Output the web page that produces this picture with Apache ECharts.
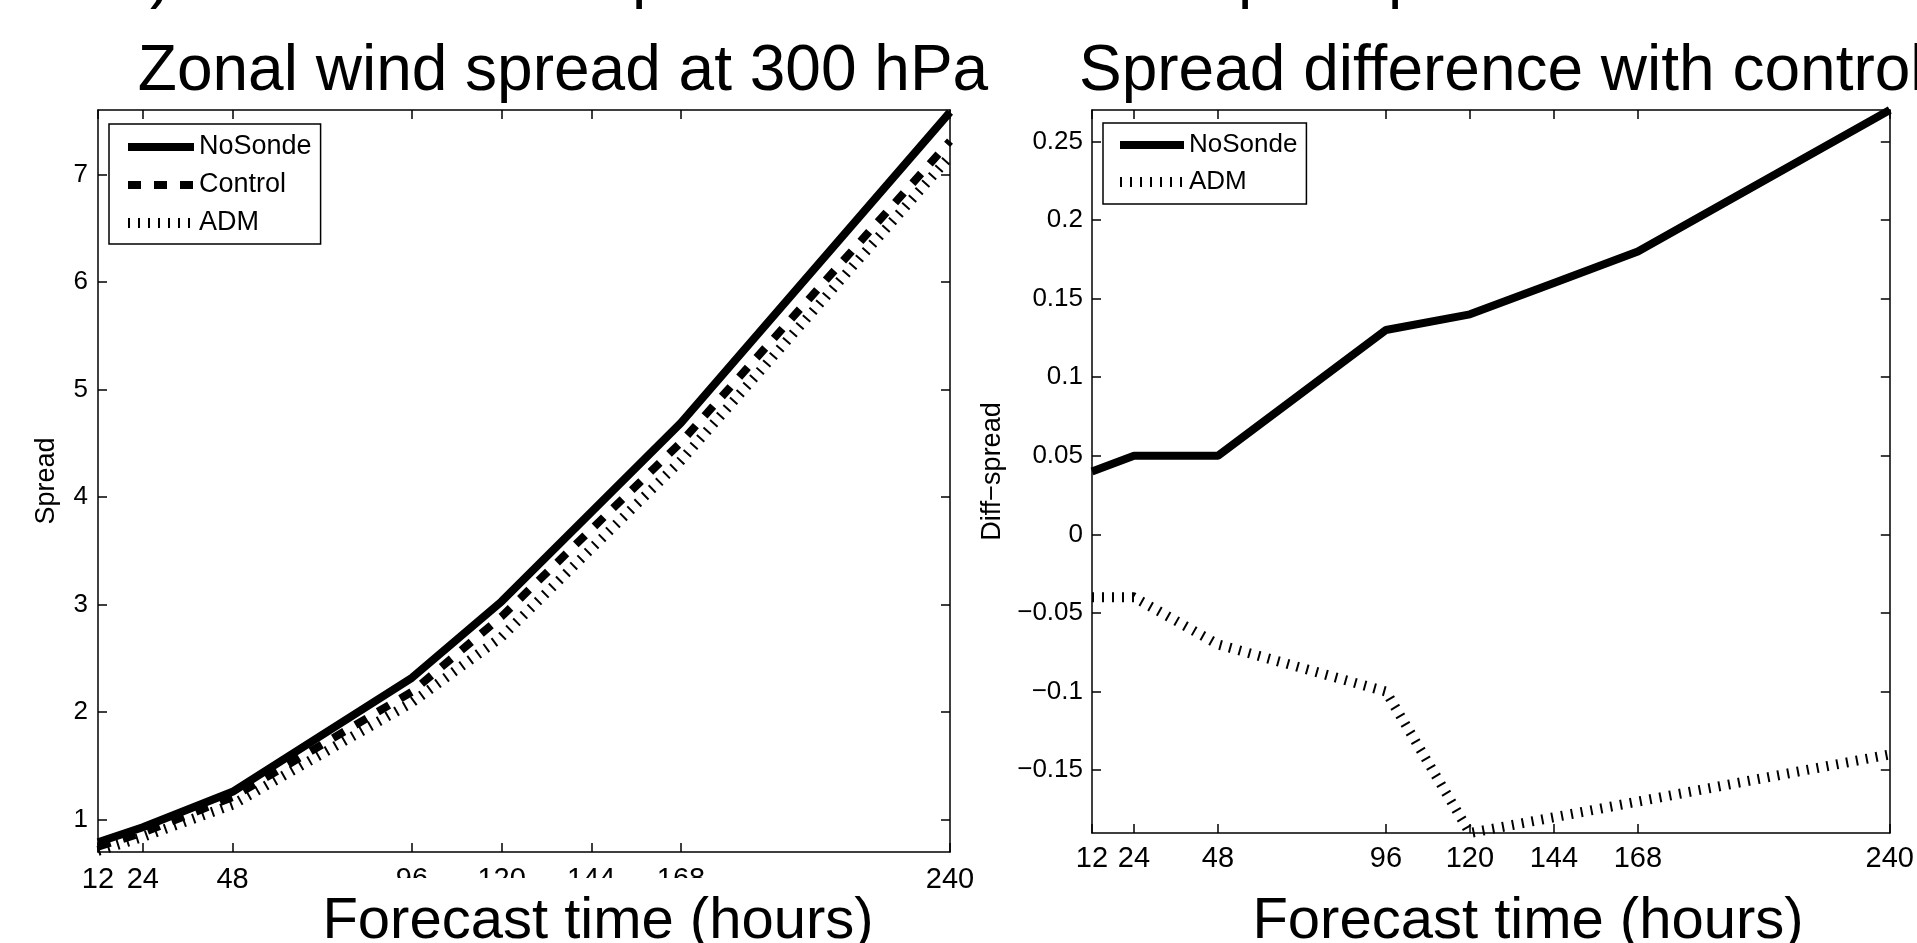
<!DOCTYPE html>
<html>
<head>
<meta charset="utf-8">
<script src="https://cdn.jsdelivr.net/npm/echarts@6/dist/echarts.min.js"></script>
<style>
  html, body { margin: 0; padding: 0; background: #fff; }
  #main { width: 1917px; height: 943px; }
</style>
</head>
<body>
<div id="main"></div>
<script>
// forecast hours (x positions and tick labels)
var hours = [12, 24, 48, 96, 120, 144, 168, 240];
// left panel: zonal wind spread at 300 hPa
var spreadNoSonde = [0.79, 0.93, 1.26, 2.32, 3.03, 3.86, 4.69, 7.58];
var spreadControl = [0.75, 0.88, 1.21, 2.19, 2.89, 3.70, 4.51, 7.31];
var spreadAdm = [0.71, 0.84, 1.14, 2.09, 2.70, 3.52, 4.34, 7.17];
// right panel: spread difference with control
var diffNoSonde = [0.04, 0.05, 0.05, 0.13, 0.14, 0.16, 0.18, 0.27];
var diffAdm = [-0.04, -0.04, -0.07, -0.10, -0.19, -0.18, -0.17, -0.14];
// tick labels
var spreadTicks = [1, 2, 3, 4, 5, 6, 7];
var diffTicks = [-0.15, -0.1, -0.05, 0, 0.05, 0.1, 0.15, 0.2, 0.25];

var FONT = 'Liberation Sans';
var chart = echarts.init(document.getElementById('main'));

function pairs(vals) {
  return hours.map(function (h, i) { return [h, vals[i]]; });
}

function xAxis(grid, pos, margin) {
  return {
    gridIndex: grid, type: 'value', position: pos, min: 12, max: 240,
    axisLine: { onZero: false, lineStyle: { color: '#000', width: 1.5 } },
    axisTick: { inside: true, length: 9, customValues: hours, lineStyle: { color: '#000', width: 1.5 } },
    axisLabel: {
      show: pos === 'bottom', customValues: hours, margin: margin,
      fontSize: 29, fontFamily: FONT, color: '#000'
    },
    splitLine: { show: false }
  };
}

function yAxis(grid, pos, min, max, ticks, name, gap, margin) {
  return {
    gridIndex: grid, type: 'value', position: pos, min: min, max: max,
    name: pos === 'left' ? name : '',
    nameLocation: 'middle', nameGap: gap, nameRotate: 90, nameMoveOverlap: false,
    nameTextStyle: { fontSize: 27, fontFamily: FONT, color: '#000' },
    axisLine: { onZero: false, lineStyle: { color: '#000', width: 1.5 } },
    axisTick: { inside: true, length: 9, customValues: ticks, lineStyle: { color: '#000', width: 1.5 } },
    axisLabel: {
      show: pos === 'left', customValues: ticks, margin: margin,
      fontSize: 26, fontFamily: FONT, color: '#000',
      formatter: function (v) { return String(v).replace('-', '\u2212'); }
    },
    splitLine: { show: false }
  };
}

var solid = { color: '#000', width: 8, type: 'solid' };
var dashed = { color: '#000', width: 8, type: [13, 13] };
var ticked = { color: '#000', width: 10, type: [2, 8] };

var option = {
  animation: false,
  backgroundColor: '#fff',
  color: ['#000'],
  title: [
    { text: 'Zonal wind spread at 300 hPa', left: 563, top: 40, textAlign: 'center', padding: 0,
      textStyle: { fontSize: 64, fontWeight: 'normal', fontFamily: FONT, color: '#000' } },
    { text: 'Spread difference with control', left: 1079, top: 40, padding: 0,
      textStyle: { fontSize: 64, fontWeight: 'normal', fontFamily: FONT, color: '#000' } },
    { text: 'Forecast time (hours)', left: 594, top: 878, textAlign: 'center',
      padding: [15, 4, 10, 4], backgroundColor: '#fff',
      textStyle: { fontSize: 58, fontWeight: 'normal', fontFamily: FONT, color: '#000' } },
    { text: 'Forecast time (hours)', left: 1524, top: 878, textAlign: 'center',
      padding: [15, 4, 10, 4],
      textStyle: { fontSize: 58, fontWeight: 'normal', fontFamily: FONT, color: '#000' } }
  ],
  // bottoms of the cut-off header line above the panels
  graphic: [
    { type: 'text', x: 150, y: -22, style: { text: ')', fontSize: 64, fontFamily: FONT, fill: '#000', verticalAlign: 'middle' } },
    { type: 'text', x: 632, y: -22, style: { text: 'p', fontSize: 64, fontFamily: FONT, fill: '#000', verticalAlign: 'middle' } },
    { type: 'text', x: 1238, y: -22, style: { text: 'p', fontSize: 64, fontFamily: FONT, fill: '#000', verticalAlign: 'middle' } },
    { type: 'text', x: 1388, y: -22, style: { text: 'p', fontSize: 64, fontFamily: FONT, fill: '#000', verticalAlign: 'middle' } }
  ],
  legend: [
    {
      orient: 'vertical', left: 109, top: 124, itemWidth: 66, itemHeight: 14, itemGap: 8,
      padding: [8, 9, 6, 14], borderColor: '#000', borderWidth: 1.5, backgroundColor: '#fff',
      selectedMode: false, itemStyle: { opacity: 0 },
      textStyle: { fontSize: 27, fontFamily: FONT, color: '#000', lineHeight: 30 },
      data: [
        { name: 'NoSonde', lineStyle: solid },
        { name: 'Control', lineStyle: dashed },
        { name: 'ADM', lineStyle: ticked }
      ]
    },
    {
      orient: 'vertical', left: 1103, top: 123, itemWidth: 64, itemHeight: 14, itemGap: 7,
      padding: [7, 9, 7, 12], borderColor: '#000', borderWidth: 1.5, backgroundColor: '#fff',
      selectedMode: false, itemStyle: { opacity: 0 },
      textStyle: { fontSize: 26, fontFamily: FONT, color: '#000', lineHeight: 30 },
      data: [
        { name: 'NoSonde', lineStyle: solid },
        { name: 'ADM', lineStyle: ticked }
      ]
    }
  ],
  grid: [
    { left: 98, top: 110, width: 852, height: 742 },
    { left: 1092, top: 110, width: 809, height: 723 }
  ],
  xAxis: [
    xAxis(0, 'bottom', 13), xAxis(0, 'top', 13),
    xAxis(1, 'bottom', 11), xAxis(1, 'top', 11)
  ],
  yAxis: [
    yAxis(0, 'left', 0.7, 7.6, spreadTicks, 'Spread', 38, 10),
    yAxis(0, 'right', 0.7, 7.6, spreadTicks, '', 0, 10),
    yAxis(1, 'left', -0.19, 0.27, diffTicks, 'Diff\u2212spread', 86, 9),
    yAxis(1, 'right', -0.19, 0.27, diffTicks, '', 0, 10)
  ],
  series: [
    { name: 'NoSonde', type: 'line', xAxisIndex: 0, yAxisIndex: 0, symbol: 'none',
      lineStyle: solid, data: pairs(spreadNoSonde) },
    { name: 'Control', type: 'line', xAxisIndex: 0, yAxisIndex: 0, symbol: 'none',
      lineStyle: dashed, data: pairs(spreadControl) },
    { name: 'ADM', type: 'line', xAxisIndex: 0, yAxisIndex: 0, symbol: 'none',
      lineStyle: ticked, data: pairs(spreadAdm) },
    { name: 'NoSonde', type: 'line', xAxisIndex: 2, yAxisIndex: 2, symbol: 'none',
      lineStyle: solid, data: pairs(diffNoSonde) },
    { name: 'ADM', type: 'line', xAxisIndex: 2, yAxisIndex: 2, symbol: 'none',
      lineStyle: ticked, data: pairs(diffAdm) }
  ]
};

chart.setOption(option);
</script>
</body>
</html>
